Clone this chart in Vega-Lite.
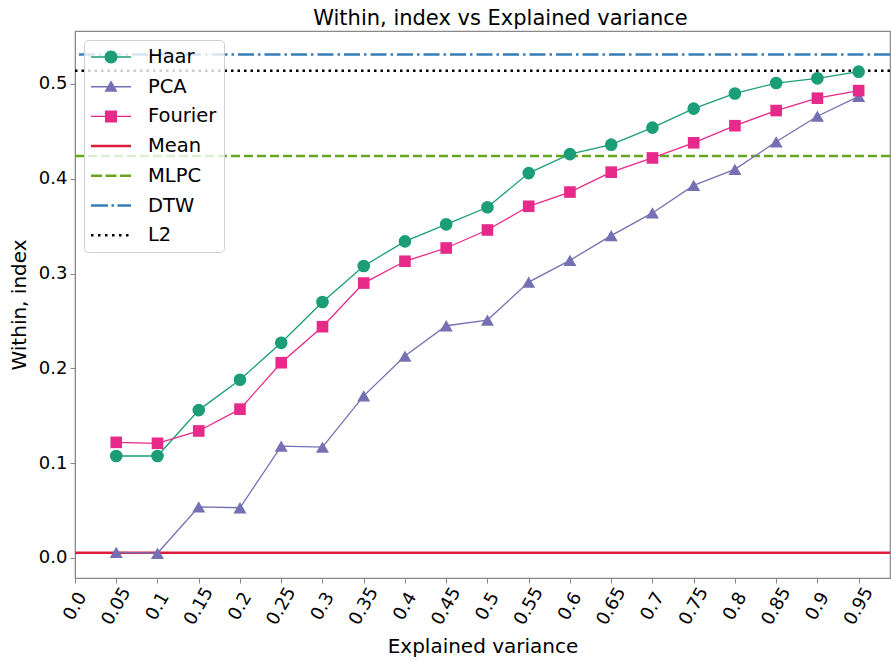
{
  "$schema": "https://vega.github.io/schema/vega-lite/v6.json",
  "autosize": {"type": "none"},
  "padding": {"left": 75, "top": 31, "right": 1, "bottom": 85},
  "width": 815,
  "height": 547,
  "background": "white",
  "title": {
    "text": "Within, index vs Explained variance",
    "fontSize": 21,
    "fontWeight": "normal",
    "font": "DejaVu Sans",
    "color": "#000",
    "offset": 2,
    "dx": 18
  },
  "config": {
    "font": "DejaVu Sans",
    "view": {"stroke": "#888888", "strokeWidth": 1.2},
    "axis": {
      "grid": false,
      "domainColor": "#888888",
      "tickColor": "#888888",
      "tickSize": 5,
      "labelColor": "#000",
      "labelFont": "DejaVu Sans",
      "labelFontSize": 18,
      "titleFont": "DejaVu Sans",
      "titleFontSize": 20,
      "titleFontWeight": "normal",
      "titleColor": "#000"
    },
    "legend": {
      "title": null,
      "orient": "top-left",
      "offset": 9,
      "padding": 7,
      "rowPadding": 9.7,
      "labelFont": "DejaVu Sans",
      "labelFontSize": 19.5,
      "labelColor": "#000",
      "labelOffset": 37,
      "symbolSize": 400,
      "symbolOpacity": 1,
      "symbolStrokeWidth": 0,
      "fillColor": "rgba(255,255,255,0.8)",
      "strokeColor": "#d0d0d0",
      "cornerRadius": 4
    }
  },
  "resolve": {"legend": {"color": "independent", "shape": "independent"}},
  "datasets": {
    "series": [
      {"x": 0.05, "series": "Haar", "y": 0.1076},
      {"x": 0.1, "series": "Haar", "y": 0.1076},
      {"x": 0.15, "series": "Haar", "y": 0.156},
      {"x": 0.2, "series": "Haar", "y": 0.188},
      {"x": 0.25, "series": "Haar", "y": 0.227},
      {"x": 0.3, "series": "Haar", "y": 0.27},
      {"x": 0.35, "series": "Haar", "y": 0.308},
      {"x": 0.4, "series": "Haar", "y": 0.334},
      {"x": 0.45, "series": "Haar", "y": 0.352},
      {"x": 0.5, "series": "Haar", "y": 0.37},
      {"x": 0.55, "series": "Haar", "y": 0.406},
      {"x": 0.6, "series": "Haar", "y": 0.426},
      {"x": 0.65, "series": "Haar", "y": 0.436},
      {"x": 0.7, "series": "Haar", "y": 0.454},
      {"x": 0.75, "series": "Haar", "y": 0.474},
      {"x": 0.8, "series": "Haar", "y": 0.49},
      {"x": 0.85, "series": "Haar", "y": 0.501},
      {"x": 0.9, "series": "Haar", "y": 0.506},
      {"x": 0.95, "series": "Haar", "y": 0.513},
      {"x": 0.05, "series": "PCA", "y": 0.006},
      {"x": 0.1, "series": "PCA", "y": 0.005},
      {"x": 0.15, "series": "PCA", "y": 0.054},
      {"x": 0.2, "series": "PCA", "y": 0.053},
      {"x": 0.25, "series": "PCA", "y": 0.118},
      {"x": 0.3, "series": "PCA", "y": 0.117},
      {"x": 0.35, "series": "PCA", "y": 0.171},
      {"x": 0.4, "series": "PCA", "y": 0.213},
      {"x": 0.45, "series": "PCA", "y": 0.245},
      {"x": 0.5, "series": "PCA", "y": 0.251},
      {"x": 0.55, "series": "PCA", "y": 0.291},
      {"x": 0.6, "series": "PCA", "y": 0.314},
      {"x": 0.65, "series": "PCA", "y": 0.34},
      {"x": 0.7, "series": "PCA", "y": 0.364},
      {"x": 0.75, "series": "PCA", "y": 0.393},
      {"x": 0.8, "series": "PCA", "y": 0.41},
      {"x": 0.85, "series": "PCA", "y": 0.439},
      {"x": 0.9, "series": "PCA", "y": 0.466},
      {"x": 0.95, "series": "PCA", "y": 0.487},
      {"x": 0.05, "series": "Fourier", "y": 0.122},
      {"x": 0.1, "series": "Fourier", "y": 0.121},
      {"x": 0.15, "series": "Fourier", "y": 0.134},
      {"x": 0.2, "series": "Fourier", "y": 0.157},
      {"x": 0.25, "series": "Fourier", "y": 0.206},
      {"x": 0.3, "series": "Fourier", "y": 0.244},
      {"x": 0.35, "series": "Fourier", "y": 0.29},
      {"x": 0.4, "series": "Fourier", "y": 0.313},
      {"x": 0.45, "series": "Fourier", "y": 0.327},
      {"x": 0.5, "series": "Fourier", "y": 0.346},
      {"x": 0.55, "series": "Fourier", "y": 0.371},
      {"x": 0.6, "series": "Fourier", "y": 0.386},
      {"x": 0.65, "series": "Fourier", "y": 0.407},
      {"x": 0.7, "series": "Fourier", "y": 0.422},
      {"x": 0.75, "series": "Fourier", "y": 0.438},
      {"x": 0.8, "series": "Fourier", "y": 0.456},
      {"x": 0.85, "series": "Fourier", "y": 0.472},
      {"x": 0.9, "series": "Fourier", "y": 0.485},
      {"x": 0.95, "series": "Fourier", "y": 0.493}
    ],
    "baselines": [
      {"series": "Mean", "y": 0.0056},
      {"series": "MLPC", "y": 0.424},
      {"series": "DTW", "y": 0.531},
      {"series": "L2", "y": 0.514}
    ]
  },
  "layer": [
    {
      "data": {"name": "baselines"},
      "mark": {"type": "rule", "strokeWidth": 2.5},
      "encoding": {
        "y": {
          "field": "y",
          "type": "quantitative",
          "scale": {"domain": [-0.0211, 0.5559], "nice": false, "zero": false},
          "axis": {
            "title": "Within, index",
            "values": [0, 0.1, 0.2, 0.3, 0.4, 0.5],
            "format": ".1f",
            "labelPadding": 3,
            "titlePadding": 9
          }
        },
        "color": {
          "field": "series",
          "type": "nominal",
          "scale": {
            "domain": ["Haar", "PCA", "Fourier", "Mean", "MLPC", "DTW", "L2"],
            "range": ["#1b9e77", "#7570b3", "#e7298a", "#dc1c3c", "#66a61e", "#377eb8", "#000000"]
          },
          "legend": null
        },
        "strokeDash": {
          "field": "series",
          "type": "nominal",
          "scale": {
            "domain": ["Mean", "MLPC", "DTW", "L2"],
            "range": [[1, 0], [9, 4], [16, 4, 2.5, 4], [2.5, 4]]
          },
          "legend": null
        }
      }
    },
    {
      "data": {"name": "series"},
      "mark": {"type": "line", "strokeWidth": 1.3},
      "encoding": {
        "x": {
          "field": "x",
          "type": "quantitative",
          "scale": {"domain": [0, 0.988], "nice": false, "zero": false},
          "axis": {
            "title": "Explained variance",
            "values": [0, 0.05, 0.1, 0.15, 0.2, 0.25, 0.3, 0.35, 0.4, 0.45, 0.5, 0.55, 0.6, 0.65, 0.7, 0.75, 0.8, 0.85, 0.9, 0.95],
            "labelExpr": "datum.value == 0 ? '0.0' : format(datum.value, '.2~f')",
            "labelAngle": -60,
            "labelAlign": "center",
            "labelBaseline": "middle",
            "labelPadding": 23,
            "labelOverlap": false,
            "labelFlush": false,
            "labelBound": false,
            "titlePadding": 9
          }
        },
        "y": {"field": "y", "type": "quantitative"},
        "color": {
          "field": "series",
          "type": "nominal",
          "scale": {
            "domain": ["Haar", "PCA", "Fourier", "Mean", "MLPC", "DTW", "L2"],
            "range": ["#1b9e77", "#7570b3", "#e7298a", "#dc1c3c", "#66a61e", "#377eb8", "#000000"]
          },
          "legend": null
        }
      }
    },
    {
      "data": {"name": "series"},
      "mark": {"type": "point", "filled": true, "opacity": 1},
      "encoding": {
        "x": {"field": "x", "type": "quantitative"},
        "y": {"field": "y", "type": "quantitative"},
        "shape": {
          "condition": [
            {"test": "datum.series === 'Haar'", "value": "circle"},
            {"test": "datum.series === 'PCA'", "value": "triangle-up"}
          ],
          "value": "square"
        },
        "size": {
          "condition": [
            {"test": "datum.series === 'Haar'", "value": 160},
            {"test": "datum.series === 'PCA'", "value": 170}
          ],
          "value": 135
        },
        "color": {
          "field": "series",
          "type": "nominal",
          "scale": {
            "domain": ["Haar", "PCA", "Fourier", "Mean", "MLPC", "DTW", "L2"],
            "range": ["#1b9e77", "#7570b3", "#e7298a", "#dc1c3c", "#66a61e", "#377eb8", "#000000"]
          },
          "legend": null
        }
      }
    },
    {
      "data": {"name": "baselines"},
      "mark": {"type": "point", "filled": true, "opacity": 0},
      "encoding": {
        "color": {
          "field": "series",
          "type": "nominal",
          "scale": {
            "domain": ["Haar", "PCA", "Fourier", "Mean", "MLPC", "DTW", "L2"],
            "range": ["#1b9e77", "#7570b3", "#e7298a", "#dc1c3c", "#66a61e", "#377eb8", "#000000"]
          }
        },
        "shape": {
          "field": "series",
          "type": "nominal",
          "scale": {
            "domain": ["Haar", "PCA", "Fourier", "Mean", "MLPC", "DTW", "L2"],
            "range": [
              "M-1,-0.07H3V0.07H-1ZM0.35,0A0.65,0.65 0 1,1 1.65,0A0.65,0.65 0 1,1 0.35,0Z",
              "M-1,-0.07H3V0.07H-1ZM1,-0.65L1.65,0.5L0.35,0.5Z",
              "M-1,-0.07H3V0.07H-1ZM0.4,-0.6H1.6V0.6H0.4Z",
              "M-1,-0.125H3V0.125H-1Z",
              "M-1,-0.125H0.1V0.125H-1ZM0.45,-0.125H1.55V0.125H0.45ZM1.9,-0.125H3V0.125H1.9Z",
              "M-1,-0.125H0.7V0.125H-1ZM1.05,-0.125H1.3V0.125H1.05ZM1.65,-0.125H3V0.125H1.65Z",
              "M-1,-0.125H-0.75V0.125H-1ZM-0.3,-0.125H-0.05V0.125H-0.3ZM0.4,-0.125H0.65V0.125H0.4ZM1.1,-0.125H1.35V0.125H1.1ZM1.8,-0.125H2.05V0.125H1.8ZM2.5,-0.125H2.75V0.125H2.5Z"
            ]
          }
        }
      }
    }
  ]
}
